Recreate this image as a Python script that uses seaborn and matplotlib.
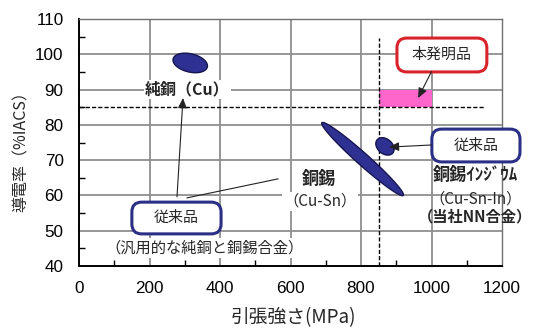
import numpy as np
import matplotlib
matplotlib.use("Agg")
import matplotlib.pyplot as plt
from matplotlib.patches import FancyBboxPatch, Rectangle
from matplotlib.ticker import MultipleLocator
import seaborn as sns

# ---- data ----
x_ticks = [0, 200, 400, 600, 800, 1000, 1200]
y_ticks = [40, 50, 60, 70, 80, 90, 100, 110]
x_label = "引張強さ(MPa)"
y_label = "導電率（%IACS）"

# target region (this invention)
target_x = [850, 1000]
target_y = [85, 90]
threshold_y = 85
threshold_x = 850
threshold_line_xmax = 1150
threshold_line_ymax = 104.5

# material clouds: major-axis end points (data) and minor/major ratio
ell_names = ["Cu", "Cu-Sn", "Cu-Sn-In"]
ell_x1 = [267, 689, 846]
ell_y1 = [98.7, 80.6, 75.8]
ell_x2 = [364, 920, 890]
ell_y2 = [96.4, 60.0, 72.0]
ell_ratio = [0.52, 0.11, 0.72]

JP = ["Noto Sans CJK JP", "DejaVu Sans"]

sns.set_theme(style="white")
plt.rcParams["font.family"] = ["Liberation Sans", "Noto Sans CJK JP", "DejaVu Sans"]

fig = plt.figure(figsize=(5.4, 3.33), dpi=100, facecolor="white")
ax = fig.add_axes([79/540, 67/333, 423/540, 247/333])
ax.set_xlim(0, 1200)
ax.set_ylim(40, 110)
ax.set_xticks(x_ticks)
ax.set_yticks(y_ticks)
ax.xaxis.set_minor_locator(MultipleLocator(100))
ax.yaxis.set_minor_locator(MultipleLocator(5))
ax.tick_params(which="both", direction="in", colors="black", labelsize=12.3)
ax.tick_params(which="major", length=0, pad=11)
ax.tick_params(which="minor", length=4, width=1, bottom=True, left=True)
for s in ["left", "bottom"]:
    ax.spines[s].set_color("black")
    ax.spines[s].set_linewidth(1.4)
for s in ["top", "right"]:
    ax.spines[s].set_color("#707070")
    ax.spines[s].set_linewidth(1.0)

# gridlines at the major ticks
ax.vlines(x_ticks[1:-1], 40, 110, colors="#8f8f8f", linewidths=1.3, zorder=1.8)
ax.hlines(y_ticks[1:-1], 0, 1200, colors="#8f8f8f", linewidths=1.3, zorder=1.8)

ax.set_xlabel(x_label, family=JP, fontsize=13.5)
ax.set_ylabel(y_label, family=JP, fontsize=11.5)
ax.xaxis.set_label_coords((293-79)/423, -(318-266)/247)
ax.yaxis.set_label_coords((21-79)/423, 0.48)
ax.xaxis.label.set_va("center")
ax.yaxis.label.set_va("center")

# pink target rectangle
ax.add_patch(Rectangle((target_x[0], target_y[0]), target_x[1]-target_x[0],
                       target_y[1]-target_y[0], fc="#ff66cc", ec="none", zorder=2))

# threshold lines
sns.lineplot(x=[0, threshold_line_xmax], y=[threshold_y, threshold_y], ax=ax,
             color="black", lw=1.0, zorder=3)
ax.lines[-1].set_dashes([3, 1.5])
sns.lineplot(x=[threshold_x, threshold_x], y=[40, threshold_line_ymax], ax=ax,
             color="black", lw=1.0, zorder=3, orient="y")
ax.lines[-1].set_dashes([3, 1.5])

# ellipses (built in pixel space to keep correct shape)
T = ax.transData
Ti = T.inverted()
t = np.linspace(0, 2*np.pi, 200)
for x1, y1, x2, y2, r in zip(ell_x1, ell_y1, ell_x2, ell_y2, ell_ratio):
    p1 = T.transform((x1, y1)); p2 = T.transform((x2, y2))
    c = (p1 + p2) / 2
    a = (p2 - p1) / 2
    b = np.array([-a[1], a[0]]) * r
    pts = c + np.outer(np.cos(t), a) + np.outer(np.sin(t), b)
    d = Ti.transform(pts)
    ax.fill(d[:, 0], d[:, 1], fc="#2e3192", ec="#15164f", lw=1.0, zorder=4)

# rounded boxes
asp = abs((Ti.transform((0, 1))[1] - Ti.transform((0, 0))[1]) /
          (Ti.transform((1, 0))[0] - Ti.transform((0, 0))[0]))

def rbox(x0, x1, y0, y1, ec, label):
    p = FancyBboxPatch((x0, y0), x1-x0, y1-y0,
                       boxstyle="round,pad=0,rounding_size=28",
                       mutation_aspect=asp, fc="white", ec=ec, lw=2.2,
                       transform=ax.transData, clip_on=False, zorder=6)
    ax.add_patch(p)
    ax.text((x0+x1)/2, (y0+y1)/2, label, family=JP, fontsize=10.8,
            ha="center", va="center", zorder=7, clip_on=False)

rbox(150, 403, 49.1, 58.1, "#2b2f85", "従来品")
rbox(1001, 1251, 69.5, 78.8, "#2b2f85", "従来品")
rbox(902, 1157, 95.0, 104.6, "#d8232a", "本発明品")

# arrows and leader line
ap = dict(arrowstyle="-|>,head_length=0.5,head_width=0.22", color="#222222", lw=0.8,
          shrinkA=0, shrinkB=0)
ax.annotate("", xy=(962, 87.6), xytext=(1000, 95.1), arrowprops=ap, zorder=8)
ax.annotate("", xy=(879, 73.7), xytext=(1001, 74.3), arrowprops=ap, zorder=8)
ax.annotate("", xy=(295, 87.6), xytext=(278, 59.6), arrowprops=ap, zorder=8)
ax.plot([306, 565], [59.3, 64.7], color="#222222", lw=0.8, zorder=5)

# labels
wb = dict(fc="white", ec="none", pad=1.0)
ax.text(308, 90.0, "純銅（Cu）", family=JP, fontsize=11.5, weight="bold",
        ha="center", va="center", bbox=wb, zorder=5)
ax.text(682, 64.6, "銅錫", family=JP, fontsize=12.3, weight="bold",
        ha="center", va="center", bbox=wb, zorder=5)
ax.text(684, 58.3, "（Cu-Sn）", family=JP, fontsize=11,
        ha="center", va="center", bbox=wb, zorder=5)
ax.text(1124, 65.8, "銅錫ｲﾝｼﾞｳﾑ", family=JP, fontsize=12.3, weight="bold",
        ha="center", va="center", zorder=5, clip_on=False)
ax.text(1124, 59.1, "（Cu-Sn-In）", family=JP, fontsize=11,
        ha="center", va="center", zorder=5, clip_on=False)
ax.text(1124, 53.9, "（当社NN合金）", family=JP, fontsize=11, weight="bold",
        ha="center", va="center", zorder=5, clip_on=False)
ax.text(355, 45.2, "（汎用的な純銅と銅錫合金）", family=JP, fontsize=11,
        ha="center", va="center", bbox=wb, zorder=5)

fig.savefig("out.png", dpi=100)
